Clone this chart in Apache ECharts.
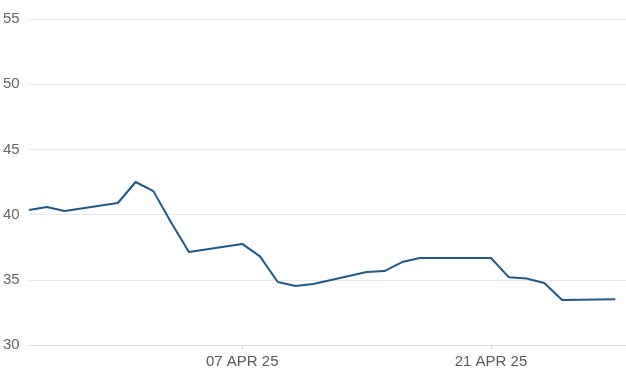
<!DOCTYPE html>
<html><head><meta charset="utf-8">
<script src="https://cdn.jsdelivr.net/npm/echarts@6/dist/echarts.min.js"></script>
<style>html,body{margin:0;padding:0;background:#fff}#c{width:626px;height:378px}</style>
</head><body><div id="c"></div>
<script>
const dates = ['2025-03-26','2025-03-27','2025-03-28','2025-03-31','2025-04-01','2025-04-02','2025-04-03','2025-04-04','2025-04-07','2025-04-08','2025-04-09','2025-04-10','2025-04-11','2025-04-14','2025-04-15','2025-04-16','2025-04-17','2025-04-21','2025-04-22','2025-04-23','2025-04-24','2025-04-25','2025-04-28'];
const values = [40.35,40.58,40.28,40.89,42.5,41.8,39.4,37.13,37.75,36.8,34.83,34.52,34.68,35.6,35.67,36.36,36.67,36.67,35.2,35.1,34.75,33.45,33.5];
const xTickDates = ['2025-04-07','2025-04-21'];
const yTicks = [30,35,40,45,50,55];

const ts = d => { const p = d.split('-').map(Number); return Date.UTC(p[0], p[1]-1, p[2]); };
const MONTHS = ['JAN','FEB','MAR','APR','MAY','JUN','JUL','AUG','SEP','OCT','NOV','DEC'];
const fmt = v => { const d = new Date(v); return String(d.getUTCDate()).padStart(2,'0') + ' ' + MONTHS[d.getUTCMonth()] + ' ' + String(d.getUTCFullYear()).slice(2); };

const chart = echarts.init(document.getElementById('c'), null, {renderer:'canvas'});
chart.setOption({
  animation: false,
  grid: {left: 29, right: 0, top: 19, bottom: 33, containLabel: false},
  xAxis: {
    type: 'value',
    min: ts(dates[0]),
    max: ts('2025-04-28') + 0.6*86400000,
    axisLine: {show: true, lineStyle: {color: '#dcdcdc', width: 1}},
    axisTick: {show: true, length: 4, lineStyle: {color: '#cfcfcf'}, customValues: xTickDates.map(ts)},
    splitLine: {show: false},
    axisLabel: {
      customValues: xTickDates.map(ts),
      formatter: v => fmt(v),
      color: '#5a5a5a', fontSize: 15, fontFamily: 'Liberation Sans, Arial, sans-serif', margin: 9
    }
  },
  yAxis: {
    type: 'value', min: yTicks[0], max: yTicks[yTicks.length-1], interval: 5,
    axisLine: {show: false}, axisTick: {show: false},
    splitLine: {lineStyle: {color: '#e8e8e8', width: 1}},
    axisLabel: {color: '#666', fontSize: 15, fontFamily: 'Liberation Sans, Arial, sans-serif', align: 'left', margin: 26}
  },
  series: [{
    type: 'line',
    data: dates.map((d,i) => [ts(d), values[i]]),
    showSymbol: false,
    lineStyle: {color: '#1d5a8c', width: 2},
    itemStyle: {color: '#1d5a8c'}
  }]
});
</script></body></html>
